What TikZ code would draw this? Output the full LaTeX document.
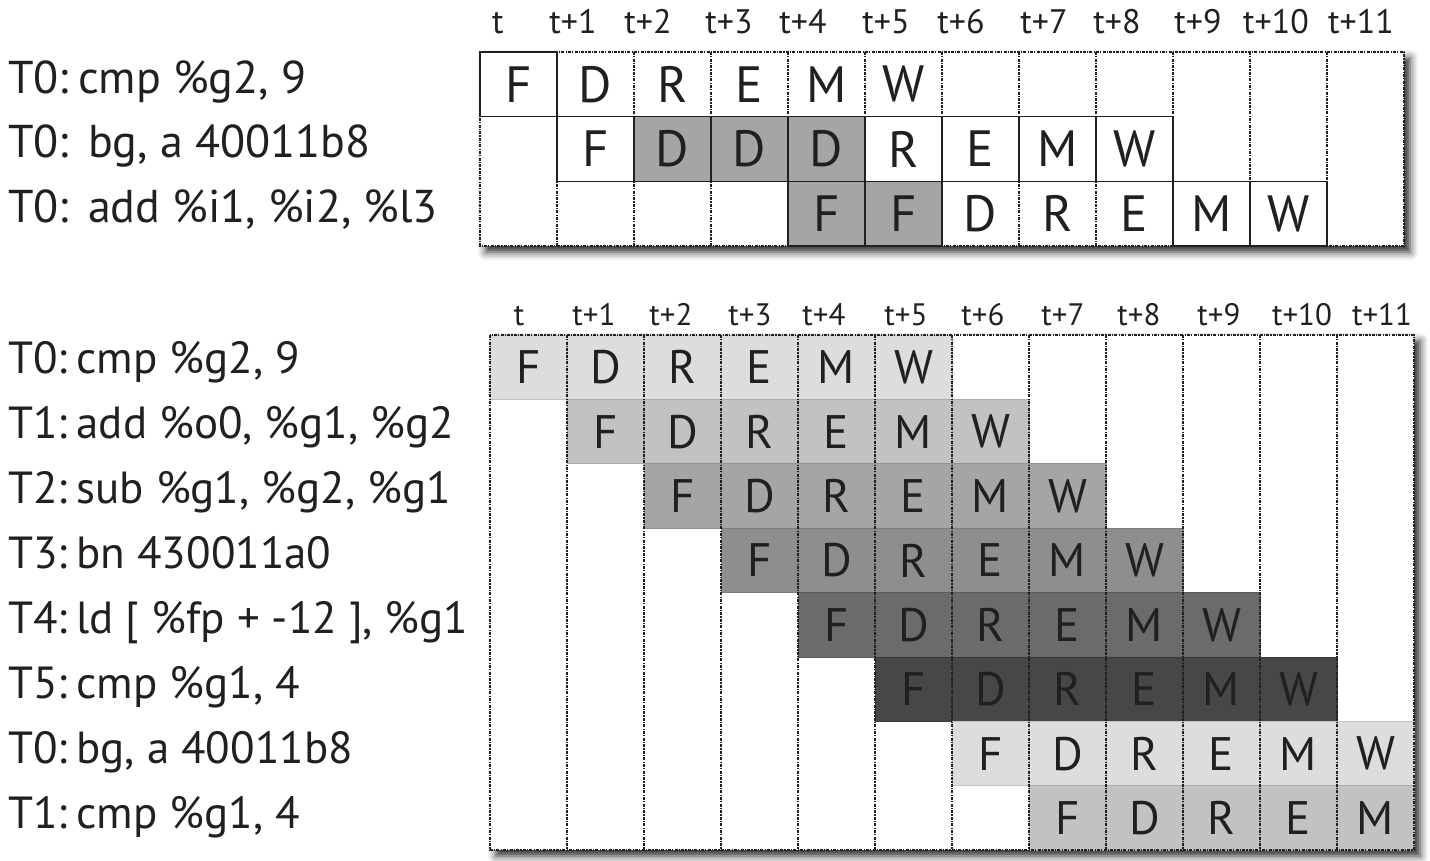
\documentclass[tikz,border=0pt]{standalone}
\usepackage{fontspec}
\setmainfont{PT Sans}
\usetikzlibrary{shadows.blur}
\definecolor{ink}{HTML}{231F20}
\definecolor{stall}{HTML}{A4A6A5}
\definecolor{toneA}{HTML}{DCDDDC}
\definecolor{toneB}{HTML}{C0C3C2}
\definecolor{toneC}{HTML}{A4A6A5}
\definecolor{toneD}{HTML}{8D8F8E}
\definecolor{toneE}{HTML}{6A6C6B}
\definecolor{toneF}{HTML}{464847}
\begin{document}
\begin{tikzpicture}[x=1pt,y=-1pt]
      % Define styles for nodes
      \tikzstyle{cell} = [rectangle, inner sep=0pt, outer sep=0pt,
      minimum width=77pt, text=ink]
      \tikzstyle{topcell} = [cell, minimum height=64.7pt,
      font=\fontsize{51}{54}\selectfont]
      \tikzstyle{botcell} = [cell, minimum height=64.4pt,
      font=\fontsize{47}{50}\selectfont]
      \tikzstyle{boxed} = [draw=ink, line width=1.4pt, fill=white]
      \tikzstyle{stalled} = [boxed, fill=stall]
      \tikzstyle{gridline} = [draw=ink, line width=1.5pt,
      dash pattern=on 3pt off 1.2pt on 1.2pt off 1.2pt]
      \tikzstyle{frame} = [rectangle, anchor=north west, fill=white,
      inner sep=0pt, outer sep=0pt, minimum width=924pt,
      blur shadow={shadow xshift=6pt, shadow yshift=-6pt,
      shadow blur radius=8pt, shadow opacity=85}]
      \tikzstyle{instr} = [anchor=base west, inner sep=0pt, text=ink]
      \tikzstyle{cyc} = [anchor=base, inner sep=0pt, text=ink]
      \tikzstyle{tA} = [botcell, fill=toneA, draw=toneA!88!black, line width=0.8pt]
      \tikzstyle{tB} = [botcell, fill=toneB, draw=toneB!88!black, line width=0.8pt]
      \tikzstyle{tC} = [botcell, fill=toneC, draw=toneC!88!black, line width=0.8pt]
      \tikzstyle{tD} = [botcell, fill=toneD, draw=toneD!88!black, line width=0.8pt]
      \tikzstyle{tE} = [botcell, fill=toneE, draw=toneE!85!black, line width=0.8pt]
      \tikzstyle{tF} = [botcell, fill=toneF, draw=toneF!80!black, line width=0.8pt]

      \useasboundingbox (0,0) rectangle (1430,860);

      % Cycle numbers at top
      \begin{scope}[font=\fontsize{34}{37}\selectfont]
      \node[cyc] (tt0) at (498,33) {t};
      \node[cyc] (tt1) at (573,33) {t+1};
      \node[cyc] (tt2) at (648,33) {t+2};
      \node[cyc] (tt3) at (729,33) {t+3};
      \node[cyc] (tt4) at (803,33) {t+4};
      \node[cyc] (tt5) at (886,33) {t+5};
      \node[cyc] (tt6) at (961,33) {t+6};
      \node[cyc] (tt7) at (1044,33) {t+7};
      \node[cyc] (tt8) at (1117,33) {t+8};
      \node[cyc] (tt9) at (1198,33) {t+9};
      \node[cyc] (tt10) at (1276,33) {t+10};
      \node[cyc] (tt11) at (1361,33) {t+11};
      \end{scope}

      % Instructions of the first pipeline
      \begin{scope}[font=\fontsize{46}{49}\selectfont]
      \node[instr] (tl0) at (8,93) {T0:\hspace{0.2em}cmp \%g2, 9};
      \node[instr] (tl1) at (8,157) {T0:\hspace{0.42em}bg, a 40011b8};
      \node[instr] (tl2) at (8,222) {T0:\hspace{0.42em}add \%i1, \%i2, \%l3};
      \end{scope}

      % Upper table with dotted grid
      \node[frame, minimum height=194pt] (topframe) at (480,52) {};
      \draw[gridline] (topframe.north west) rectangle (topframe.south east);
      \draw[gridline] (557,52) -- (557,246) (634,52) -- (634,246)
        (711,52) -- (711,246) (788,52) -- (788,246) (865,52) -- (865,246)
        (942,52) -- (942,246) (1019,52) -- (1019,246) (1096,52) -- (1096,246)
        (1173,52) -- (1173,246) (1250,52) -- (1250,246) (1327,52) -- (1327,246);

      % First instruction
      \node[topcell, boxed] (a0) at (518.5,84.3) {F};
      \node[topcell] (a1) at (595.5,84.3) {D};
      \node[topcell] (a2) at (672.5,84.3) {R};
      \node[topcell] (a3) at (749.5,84.3) {E};
      \node[topcell] (a4) at (826.5,84.3) {M};
      \node[topcell] (a5) at (903.5,84.3) {W};

      % Second instruction, stalled in decode
      \node[topcell, boxed] (b1) at (595.5,149) {F};
      \node[topcell, stalled] (b2) at (672.5,149) {D};
      \node[topcell, stalled] (b3) at (749.5,149) {D};
      \node[topcell, stalled] (b4) at (826.5,149) {D};
      \node[topcell, boxed] (b5) at (903.5,149) {R};
      \node[topcell, boxed] (b6) at (980.5,149) {E};
      \node[topcell, boxed] (b7) at (1057.5,149) {M};
      \node[topcell, boxed] (b8) at (1134.5,149) {W};

      % Third instruction, stalled in fetch
      \node[topcell, stalled] (c4) at (826.5,213.7) {F};
      \node[topcell, stalled] (c5) at (903.5,213.7) {F};
      \node[topcell] (c6) at (980.5,213.7) {D};
      \node[topcell] (c7) at (1057.5,213.7) {R};
      \node[topcell] (c8) at (1134.5,213.7) {E};
      \node[topcell, boxed] (c9) at (1211.5,213.7) {M};
      \node[topcell, boxed] (c10) at (1288.5,213.7) {W};

      % Cycle numbers of the second pipeline
      \begin{scope}[font=\fontsize{31}{34}\selectfont]
      \node[cyc] (bt0) at (519,325) {t};
      \node[cyc] (bt1) at (594,325) {t+1};
      \node[cyc] (bt2) at (671,325) {t+2};
      \node[cyc] (bt3) at (750,325) {t+3};
      \node[cyc] (bt4) at (824,325) {t+4};
      \node[cyc] (bt5) at (906,325) {t+5};
      \node[cyc] (bt6) at (983,325) {t+6};
      \node[cyc] (bt7) at (1063,325) {t+7};
      \node[cyc] (bt8) at (1139,325) {t+8};
      \node[cyc] (bt9) at (1219,325) {t+9};
      \node[cyc] (bt10) at (1302,325) {t+10};
      \node[cyc] (bt11) at (1382,325) {t+11};
      \end{scope}

      % Instructions of the second pipeline
      \begin{scope}[font=\fontsize{45}{48}\selectfont]
      \node[instr] (bl0) at (8,373) {T0:\hspace{0.2em}cmp \%g2, 9};
      \node[instr] (bl1) at (8,438) {T1:\hspace{0.2em}add \%o0, \%g1, \%g2};
      \node[instr] (bl2) at (8,503) {T2:\hspace{0.2em}sub \%g1, \%g2, \%g1};
      \node[instr] (bl3) at (8,568) {T3:\hspace{0.2em}bn 430011a0};
      \node[instr] (bl4) at (8,633) {T4:\hspace{0.2em}ld [ \%fp + -12 ], \%g1};
      \node[instr] (bl5) at (8,698) {T5:\hspace{0.2em}cmp \%g1, 4};
      \node[instr] (bl6) at (8,763) {T0:\hspace{0.2em}bg, a 40011b8};
      \node[instr] (bl7) at (8,828) {T1:\hspace{0.2em}cmp \%g1, 4};
      \end{scope}

      % Lower table
      \node[frame, minimum height=515pt] (botframe) at (490,335) {};

      % T0
      \node[tA] (p0) at (528.5,367.2) {F};
      \node[tA] at (605.5,367.2) {D};
      \node[tA] at (682.5,367.2) {R};
      \node[tA] at (759.5,367.2) {E};
      \node[tA] at (836.5,367.2) {M};
      \node[tA] at (913.5,367.2) {W};
      % T1
      \node[tB] (q1) at (605.5,431.6) {F};
      \node[tB] at (682.5,431.6) {D};
      \node[tB] at (759.5,431.6) {R};
      \node[tB] at (836.5,431.6) {E};
      \node[tB] at (913.5,431.6) {M};
      \node[tB] at (990.5,431.6) {W};
      % T2
      \node[tC] (r2) at (682.5,496) {F};
      \node[tC] at (759.5,496) {D};
      \node[tC] at (836.5,496) {R};
      \node[tC] at (913.5,496) {E};
      \node[tC] at (990.5,496) {M};
      \node[tC] at (1067.5,496) {W};
      % T3
      \node[tD] (s3) at (759.5,560.4) {F};
      \node[tD] at (836.5,560.4) {D};
      \node[tD] at (913.5,560.4) {R};
      \node[tD] at (990.5,560.4) {E};
      \node[tD] at (1067.5,560.4) {M};
      \node[tD] at (1144.5,560.4) {W};
      % T4
      \node[tE] (u4) at (836.5,624.8) {F};
      \node[tE] at (913.5,624.8) {D};
      \node[tE] at (990.5,624.8) {R};
      \node[tE] at (1067.5,624.8) {E};
      \node[tE] at (1144.5,624.8) {M};
      \node[tE] at (1221.5,624.8) {W};
      % T5
      \node[tF] (v5) at (913.5,689.2) {F};
      \node[tF] at (990.5,689.2) {D};
      \node[tF] at (1067.5,689.2) {R};
      \node[tF] at (1144.5,689.2) {E};
      \node[tF] at (1221.5,689.2) {M};
      \node[tF] at (1298.5,689.2) {W};
      % T0 again
      \node[tA] (w6) at (990.5,753.6) {F};
      \node[tA] at (1067.5,753.6) {D};
      \node[tA] at (1144.5,753.6) {R};
      \node[tA] at (1221.5,753.6) {E};
      \node[tA] at (1298.5,753.6) {M};
      \node[tA] at (1375.5,753.6) {W};
      % T1 again
      \node[tB] (z7) at (1067.5,818) {F};
      \node[tB] at (1144.5,818) {D};
      \node[tB] at (1221.5,818) {R};
      \node[tB] at (1298.5,818) {E};
      \node[tB] at (1375.5,818) {M};

      % dotted grid over the bands
      \draw[gridline] (botframe.north west) rectangle (botframe.south east);
      \draw[gridline] (567,335) -- (567,850) (644,335) -- (644,850)
        (721,335) -- (721,850) (798,335) -- (798,850) (875,335) -- (875,850)
        (952,335) -- (952,850) (1029,335) -- (1029,850) (1106,335) -- (1106,850)
        (1183,335) -- (1183,850) (1260,335) -- (1260,850) (1337,335) -- (1337,850);
\end{tikzpicture}
\end{document}
